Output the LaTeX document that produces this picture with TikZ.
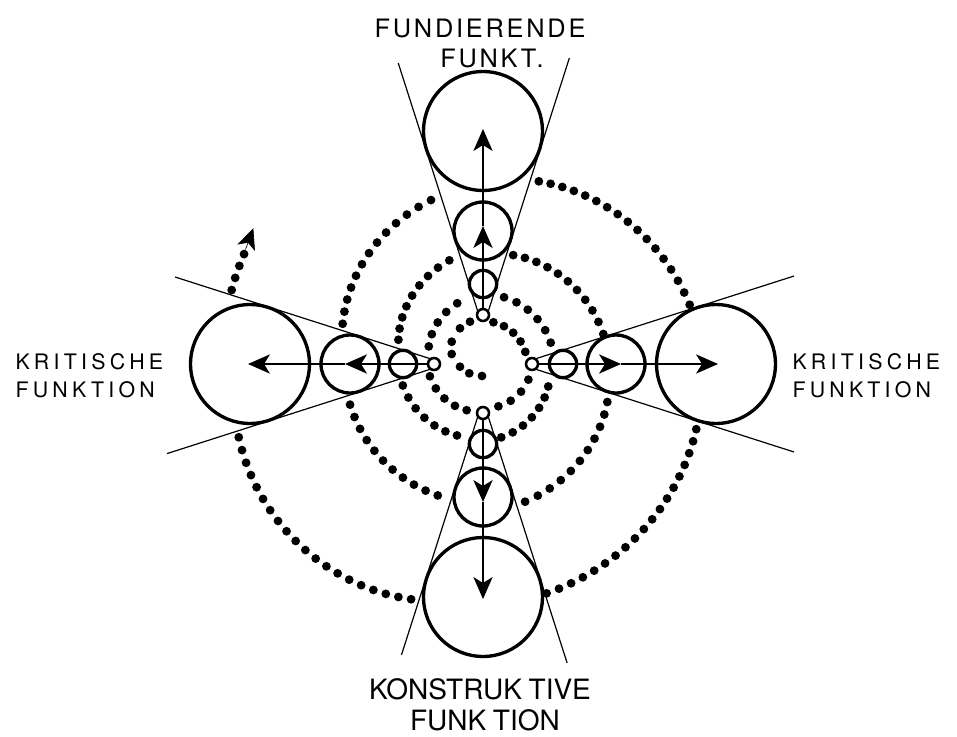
\documentclass[tikz,border=0pt]{standalone}
\usepackage{fontspec}
\setmainfont{TeX Gyre Heros}
\usetikzlibrary{arrows.meta,calc}

\tikzset{every picture/.style={line width=0.75pt}}
\tikzset{
  ring/.style={draw, circle, inner sep=0pt, line width=2.5pt},
  cone/.style={line width=0.9pt},
  axisline/.style={line width=1pt, -{Stealth[length=16.5pt,width=14.5pt,inset=4.5pt]}},
  sidetext/.style={inner sep=0pt, anchor=base west, font=\fontsize{16pt}{19pt}\selectfont\addfontfeatures{LetterSpace=20}},
  toptext/.style={inner sep=0pt, anchor=base, font=\fontsize{19pt}{22pt}\selectfont\addfontfeatures{LetterSpace=11}},
  bottext/.style={inner sep=0pt, anchor=base, font=\fontsize{21pt}{24pt}\selectfont},
}

% one piece of the dotted spiral: start angle, start radius, end angle, end radius, bulge
\newcommand{\dotarc}[5]{%
  \pgfmathsetmacro{\arclen}{((#2+#4)/2)*(abs(#3-#1)/57.2958)}
  \pgfmathtruncatemacro{\ndots}{max(1,round(\arclen/12.8))}
  \foreach \i in {0,...,\ndots}{
    \pgfmathsetmacro{\spt}{\i/\ndots}
    \pgfmathsetmacro{\spa}{#1+(#3-#1)*\spt}
    \pgfmathsetmacro{\spr}{#2+(#4-#2)*\spt+4*#5*\spt*(1-\spt)}
    \fill ($(c)+(-\spa:\spr)$) circle (4.4);
  }%
}

\begin{document}
\begin{tikzpicture}[x=0.75pt,y=0.75pt,yscale=-1,xscale=1]
\useasboundingbox (0,0) rectangle (957,736);
\coordinate (c) at (483,364);

% the four funnels
\foreach \n/\a/\la/\lb in {u/270/306/301, r/0/311/311, d/90/291/299, l/180/308/316}{
  %Shape: Circles
  \node[ring, line width=1.9pt, minimum size=9pt] (\n0) at ($(c)+(\a:49)$) {};
  \node[ring, minimum size=20.5pt] (\n1) at ($(c)+(\a:80)$) {};
  \node[ring, minimum size=43.5pt] (\n2) at ($(c)+(\a:133)$) {};
  \node[ring, minimum size=89.2pt] (\n3) at ($(c)+(\a:233)$) {};
  %Straight Lines
  \coordinate (\n-apex) at ($(c)+(\a:36.3)$);
  \pgfmathsetmacro{\ta}{(\la-36.3)/cos(17.76)}
  \pgfmathsetmacro{\tb}{(\lb-36.3)/cos(17.76)}
  \draw[cone] ($(\n-apex)+(\a+17.76:17.3)$) -- ($(\n-apex)+(\a+17.76:\ta)$);
  \draw[cone] ($(\n-apex)+(\a-17.76:17.3)$) -- ($(\n-apex)+(\a-17.76:\tb)$);
  %Arrows
  \coordinate (\n-start) at ($(c)+(\a:55)$);
  \coordinate (\n-mid) at ($(c)+(\a:138)$);
  \coordinate (\n-end) at ($(c)+(\a:235)$);
  \draw[axisline] (\n-start) -- (\n-mid);
  \draw[axisline] (\n-mid) -- (\n-end);
}

% dotted spiral, inner start
\foreach \p in {(482,376),(469.3,373.3),(460,366.7),(451.7,354),(451.7,341.7),(460,328.3),(470,321.7)}
  \fill \p circle (4.4);
% first turn
\dotarc{76}{43}{16}{44}{0}
\dotarc{341}{48}{290}{45}{0}
\dotarc{250.5}{49}{193}{54.5}{0}
\dotarc{162}{57}{113}{66}{0}
% second turn
\dotarc{72.5}{70}{17.5}{71}{0}
\dotarc{341}{69}{284}{75.6}{0}
\dotarc{250}{76}{195}{83}{0}
\dotarc{164}{88}{108}{109}{0}
% third turn
\dotarc{74.5}{113}{14}{124}{0}
\dotarc{343}{130}{287}{144}{0}
\dotarc{251}{139}{197}{139}{0}
\dotarc{164}{146}{107.6}{172}{0}
% fourth turn
\dotarc{73}{191}{16}{215}{0}
\dotarc{343}{223}{285.5}{238}{0}
\dotarc{253}{246}{196.7}{255}{7}
\dotarc{163.6}{262}{155.3}{263}{0}
% spiral end
\coordinate (sp-base) at (245.5,249.5);
\coordinate (sp-tip) at (253.3,228.3);
\draw[line width=0.5pt, -{Stealth[length=15.5pt,width=14pt,inset=4pt]}] (sp-base) -- (sp-tip);

% Text Node
\node[toptext] (fund1) at (480,37) {FUNDIERENDE};
\node[toptext] (fund2) at (492,67) {FUNKT.};
% Text Node
\node[sidetext] (kritl1) at (15,369) {KRITISCHE};
\node[sidetext] (kritl2) at (15,397) {FUNKTION};
% Text Node
\node[sidetext] (kritr1) at (792,369) {KRITISCHE};
\node[sidetext] (kritr2) at (792,397) {FUNK\kern3pt TION};
% Text Node
\node[bottext] (konst1) at (480,699) {KONSTRUK\kern5pt TIVE};
\node[bottext] (konst2) at (485,730) {FUNK\kern5pt TION};

\end{tikzpicture}
\end{document}
